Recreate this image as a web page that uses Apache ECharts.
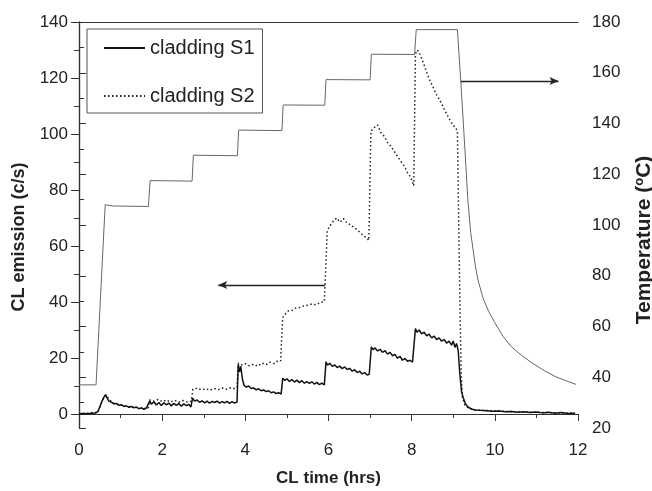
<!DOCTYPE html>
<html lang="en">
<head>
    <meta charset="UTF-8">
    <title>CL emission and temperature</title>
    <script src="https://cdn.jsdelivr.net/npm/echarts/dist/echarts.min.js"></script>
</head>
<body style="margin: 0; background: #fff">
    <div id="chart" style="width: 652px; height: 491px;"></div>
    <script>
        // [hours, counts/s]
        const s1Data = [
            [0, 0.1], [0.1, 0.2], [0.2, 0.1], [0.3, 0.3], [0.4, 0.4], [0.45, 0.8],
            [0.5, 2.5], [0.55, 4.5], [0.6, 6.0], [0.64, 6.9], [0.68, 5.6], [0.72, 4.6], [0.78, 4.2],
            [0.84, 3.6], [0.9, 3.8], [0.96, 3.1], [1.02, 3.3], [1.08, 2.7], [1.14, 2.9], [1.2, 2.4],
            [1.26, 2.7], [1.32, 2.2], [1.38, 2.5], [1.44, 1.9], [1.5, 2.2], [1.56, 1.7], [1.62, 2.1], [1.66, 1.6],
            [1.7, 4.6], [1.74, 3.5], [1.8, 4.4], [1.86, 3.2], [1.92, 4.1], [1.98, 3.0], [2.04, 4.0], [2.1, 3.3],
            [2.16, 3.9], [2.22, 2.9], [2.28, 3.8], [2.34, 3.1], [2.4, 3.7], [2.46, 2.8], [2.52, 3.6], [2.58, 3.0],
            [2.64, 3.4], [2.69, 2.5], [2.71, 1.8],
            [2.73, 5.6], [2.78, 4.6], [2.84, 5.0], [2.9, 4.2], [2.96, 4.7], [3.02, 4.0], [3.08, 4.6], [3.14, 3.9],
            [3.2, 4.5], [3.26, 4.1], [3.32, 4.6], [3.38, 3.9], [3.44, 4.4], [3.5, 4.0], [3.56, 4.5], [3.62, 3.8],
            [3.68, 4.4], [3.74, 3.9], [3.8, 4.3],
            [3.83, 17.8], [3.86, 15.0], [3.89, 17.0], [3.93, 12.5], [3.97, 10.2], [4.02, 9.6], [4.08, 10.0],
            [4.14, 9.1], [4.2, 9.3], [4.26, 8.6], [4.32, 9.0], [4.38, 8.3], [4.44, 8.6], [4.5, 8.0], [4.56, 8.3],
            [4.62, 7.6], [4.68, 7.9], [4.74, 7.3], [4.8, 7.6], [4.86, 7.1],
            [4.9, 12.8], [4.95, 12.0], [5.0, 12.6], [5.06, 11.6], [5.12, 12.3], [5.18, 11.4], [5.24, 12.1],
            [5.3, 11.2], [5.36, 11.9], [5.42, 11.0], [5.48, 11.6], [5.54, 10.9], [5.6, 11.5], [5.66, 10.7],
            [5.72, 11.3], [5.78, 10.5], [5.84, 11.0], [5.9, 10.4],
            [5.94, 18.6], [5.98, 17.4], [6.03, 18.1], [6.09, 17.0], [6.15, 17.5], [6.21, 16.6], [6.27, 17.1],
            [6.33, 16.2], [6.39, 16.8], [6.45, 15.9], [6.51, 16.3], [6.57, 15.3], [6.63, 15.8], [6.69, 14.8],
            [6.75, 15.3], [6.81, 14.3], [6.87, 14.8], [6.93, 13.9], [6.98, 14.2],
            [7.03, 24.0], [7.07, 23.0], [7.12, 23.6], [7.18, 22.5], [7.24, 23.1], [7.3, 22.0], [7.36, 22.6],
            [7.42, 21.4], [7.48, 22.0], [7.54, 20.8], [7.6, 21.3], [7.66, 19.9], [7.72, 20.6], [7.78, 19.2],
            [7.84, 19.8], [7.9, 18.8], [7.96, 19.2], [8.02, 18.5], [8.06, 18.8],
            [8.09, 30.5], [8.13, 29.2], [8.18, 30.0], [8.24, 28.6], [8.3, 29.2], [8.36, 27.9], [8.42, 28.5],
            [8.48, 27.2], [8.54, 27.8], [8.6, 26.6], [8.66, 27.2], [8.72, 26.0], [8.78, 26.6], [8.84, 25.3],
            [8.9, 26.0], [8.96, 24.6], [9.0, 26.1], [9.04, 23.8], [9.08, 25.2], [9.12, 22.5],
            [9.16, 14], [9.2, 8], [9.24, 5.8], [9.3, 3.5], [9.36, 2.4], [9.44, 1.8], [9.52, 1.4], [9.65, 1.3],
            [9.8, 1.2], [9.95, 1.0], [10.1, 1.1], [10.25, 0.8], [10.4, 0.9], [10.55, 0.6], [10.7, 0.8],
            [10.85, 0.5], [11.0, 0.7], [11.15, 0.4], [11.3, 0.6], [11.45, 0.3], [11.6, 0.5], [11.75, 0.2], [11.93, 0.3]
        ];

        const s2Data = [
            [0, 0.1], [0.45, 0.6], [0.6, 6.2], [0.66, 6.5], [0.8, 4.0], [1.0, 3.2], [1.2, 2.6], [1.4, 2.3], [1.66, 1.9],
            [1.7, 5.0], [1.8, 4.6], [1.9, 5.2], [2.0, 4.4], [2.1, 5.0], [2.2, 4.3], [2.3, 4.9], [2.4, 4.2],
            [2.5, 4.8], [2.6, 4.3], [2.7, 4.6],
            [2.74, 8.9], [2.85, 9.2], [2.95, 8.6], [3.05, 9.0], [3.15, 8.5], [3.25, 9.1], [3.35, 8.7],
            [3.45, 9.3], [3.55, 8.8], [3.65, 9.4], [3.75, 9.0], [3.8, 9.5],
            [3.83, 18.2], [3.9, 17.5], [4.0, 18.0], [4.1, 17.2], [4.2, 17.8], [4.3, 17.1], [4.4, 18.2],
            [4.5, 17.6], [4.6, 18.5], [4.7, 18.0], [4.8, 19.2], [4.85, 19.0],
            [4.87, 26], [4.9, 34.5], [4.95, 35.5], [5.03, 36.8], [5.12, 37.0], [5.2, 37.8], [5.3, 38.0],
            [5.4, 38.6], [5.5, 38.8], [5.6, 39.3], [5.7, 39.0], [5.8, 39.8], [5.9, 40.1],
            [5.95, 58], [5.97, 65.5], [6.05, 67.5], [6.12, 69.0], [6.2, 70.0], [6.28, 68.5], [6.36, 69.8],
            [6.44, 68.3], [6.52, 67.6], [6.6, 66.8], [6.68, 65.9], [6.76, 64.8], [6.84, 63.7], [6.92, 62.9], [6.97, 62.0],
            [7.02, 101], [7.1, 102.3], [7.18, 103.2], [7.26, 100.5], [7.34, 99.2], [7.42, 97.0], [7.5, 95.6],
            [7.58, 93.8], [7.66, 92.0], [7.74, 90.2], [7.82, 88.6], [7.9, 86.2], [7.98, 84.5], [8.05, 81.5],
            [8.09, 128.6], [8.14, 130.0], [8.2, 128.4], [8.28, 125.5], [8.36, 122.0], [8.44, 119.0], [8.52, 116.5],
            [8.6, 114.0], [8.68, 112.0], [8.76, 109.5], [8.84, 107.2], [8.92, 105.0], [9.0, 103.0], [9.05, 102.5], [9.1, 101],
            [9.13, 70], [9.16, 40], [9.19, 15], [9.22, 6], [9.28, 3.2], [9.36, 2.2], [9.5, 1.5],
            [9.7, 1.3], [10.0, 1.1], [10.5, 0.8], [11.0, 0.6], [11.5, 0.4], [11.93, 0.3]
        ];

        // [hours, deg C]
        const tempData = [
            [0, 37], [0.41, 37], [0.63, 108], [0.8, 107.5], [1.67, 107.3], [1.71, 117.5], [2.72, 117.3],
            [2.75, 127.5], [3.81, 127.3], [3.84, 137.4], [4.88, 137.2], [4.91, 147.3], [5.91, 147.2],
            [5.94, 157.3], [7.0, 157.2], [7.03, 167.3], [8.07, 167.2], [8.11, 177], [9.1, 177],
            [9.18, 157], [9.28, 130], [9.35, 110], [9.42, 97], [9.53, 84], [9.6, 78], [9.72, 71], [9.85, 66],
            [10.0, 61.5], [10.2, 56], [10.4, 52], [10.65, 48.5], [10.9, 45.6], [11.2, 42.5], [11.45, 40.3],
            [11.7, 38.7], [11.95, 37.2]
        ];

        // arrows: [start, end] in data units
        const leftArrow = [[5.92, 46.1], [3.35, 46.1]];
        const rightArrow = [[9.18, 156.7], [11.53, 156.7]];

        const font = "'Liberation Sans', Arial, sans-serif";
        const ink = '#222';

        const myChart = echarts.init(document.getElementById('chart'));

        const option = {
            animation: false,
            textStyle: { fontFamily: font, color: ink },
            legend: {
                data: ['cladding S1', 'cladding S2'],
                orient: 'vertical',
                left: 87,
                top: 29,
                padding: [8, 8, 6, 16],
                itemWidth: 41,
                itemHeight: 14,
                itemGap: 26,
                borderColor: '#555',
                borderWidth: 1,
                backgroundColor: '#fff',
                itemStyle: { opacity: 0 },
                textStyle: { fontSize: 20, color: ink, fontFamily: font, lineHeight: 22 }
            },
            // grid 0: data, grid 1: left tick labels (0..140), grid 2: right title only
            grid: [
                { left: 79, right: 74, top: 22, bottom: 63, outerBoundsMode: 'none' },
                { left: 79, right: 74, top: 22, bottom: 77, outerBoundsMode: 'none' },
                { left: 79, right: 74, top: 52, bottom: 63, outerBoundsMode: 'none' }
            ],
            xAxis: [
                {
                    gridIndex: 0, type: 'value', min: 0, max: 12, interval: 2,
                    name: 'CL time (hrs)', nameLocation: 'middle', nameGap: 42,
                    nameTextStyle: { fontSize: 17, fontWeight: 'bold', color: ink },
                    axisLine: { lineStyle: { color: '#333', width: 1.2 } },
                    axisTick: { length: 7, lineStyle: { color: '#333' } },
                    minorTick: { show: true, splitNumber: 2, length: 4, lineStyle: { color: '#333' } },
                    axisLabel: { fontSize: 17, color: ink, margin: 14 },
                    splitLine: { show: false }
                },
                {
                    gridIndex: 0, type: 'value', min: 0, max: 12, position: 'top',
                    axisLine: { show: true, lineStyle: { color: '#333', width: 1.2 } },
                    axisTick: { show: false }, axisLabel: { show: false }, splitLine: { show: false }
                },
                { gridIndex: 1, type: 'value', min: 0, max: 12, show: false },
                { gridIndex: 2, type: 'value', min: 0, max: 12, show: false }
            ],
            yAxis: [
                {
                    gridIndex: 0, type: 'value', min: -5, max: 140, position: 'left',
                    axisLine: { show: true, lineStyle: { color: '#333', width: 1.2 } },
                    axisTick: { show: false }, axisLabel: { show: false }, splitLine: { show: false }
                },
                {
                    gridIndex: 0, type: 'value', min: 20, max: 180, interval: 20, position: 'right',
                    axisLine: { show: true, lineStyle: { color: '#333', width: 1.2 } },
                    axisTick: { length: 7, lineStyle: { color: '#333' } },
                    minorTick: { show: true, splitNumber: 2, length: 5, lineStyle: { color: '#333' } },
                    axisLabel: { fontSize: 17, color: ink, margin: 14 },
                    splitLine: { show: false }
                },
                {
                    gridIndex: 1, type: 'value', min: 0, max: 140, interval: 20, position: 'left',
                    name: 'CL emission (c/s)', nameLocation: 'middle', nameGap: 51, nameRotate: 90,
                    nameTextStyle: { fontSize: 18, fontWeight: 'bold', color: ink, padding: [0, 38, 0, 0] },
                    axisLine: { show: false },
                    axisTick: { length: 8, lineStyle: { color: '#333' } },
                    minorTick: { show: true, splitNumber: 2, length: 5, lineStyle: { color: '#333' } },
                    axisLabel: { fontSize: 17, color: ink, margin: 11 },
                    splitLine: { show: false }
                },
                {
                    gridIndex: 2, type: 'value', min: 0, max: 1, position: 'right',
                    name: 'Temperature ({sup|o}C)', nameLocation: 'middle', nameGap: 55, nameRotate: 90,
                    nameTextStyle: {
                        fontSize: 21, fontWeight: 'bold', color: ink,
                        rich: { sup: { fontSize: 13, fontWeight: 'bold', verticalAlign: 'top', padding: [0, 0, 10, 0] } }
                    },
                    axisLine: { show: false }, axisTick: { show: false },
                    axisLabel: { show: false }, splitLine: { show: false }
                }
            ],
            series: [
                {
                    name: 'temperature',
                    type: 'line',
                    xAxisIndex: 0, yAxisIndex: 1,
                    data: tempData,
                    symbol: 'none',
                    lineStyle: { color: '#666', width: 1 },
                    markLine: {
                        silent: true,
                        symbol: ['none', 'arrow'],
                        symbolSize: [6, 9],
                        label: { show: false },
                        lineStyle: { color: ink, width: 1.3, type: 'solid' },
                        data: [[{ coord: rightArrow[0] }, { coord: rightArrow[1] }]]
                    }
                },
                {
                    name: 'cladding S2',
                    type: 'line',
                    xAxisIndex: 0, yAxisIndex: 0,
                    data: s2Data,
                    symbol: 'none',
                    itemStyle: { color: ink },
                    lineStyle: { color: ink, width: 1.5, type: [1.5, 2.5] }
                },
                {
                    name: 'cladding S1',
                    type: 'line',
                    xAxisIndex: 0, yAxisIndex: 0,
                    data: s1Data,
                    symbol: 'none',
                    itemStyle: { color: '#111' },
                    lineStyle: { color: '#111', width: 1.5 },
                    markLine: {
                        silent: true,
                        symbol: ['none', 'arrow'],
                        symbolSize: [6, 9],
                        label: { show: false },
                        lineStyle: { color: ink, width: 1.3, type: 'solid' },
                        data: [[{ coord: leftArrow[0] }, { coord: leftArrow[1] }]]
                    }
                }
            ]
        };

        myChart.setOption(option);
    </script>
</body>
</html>
